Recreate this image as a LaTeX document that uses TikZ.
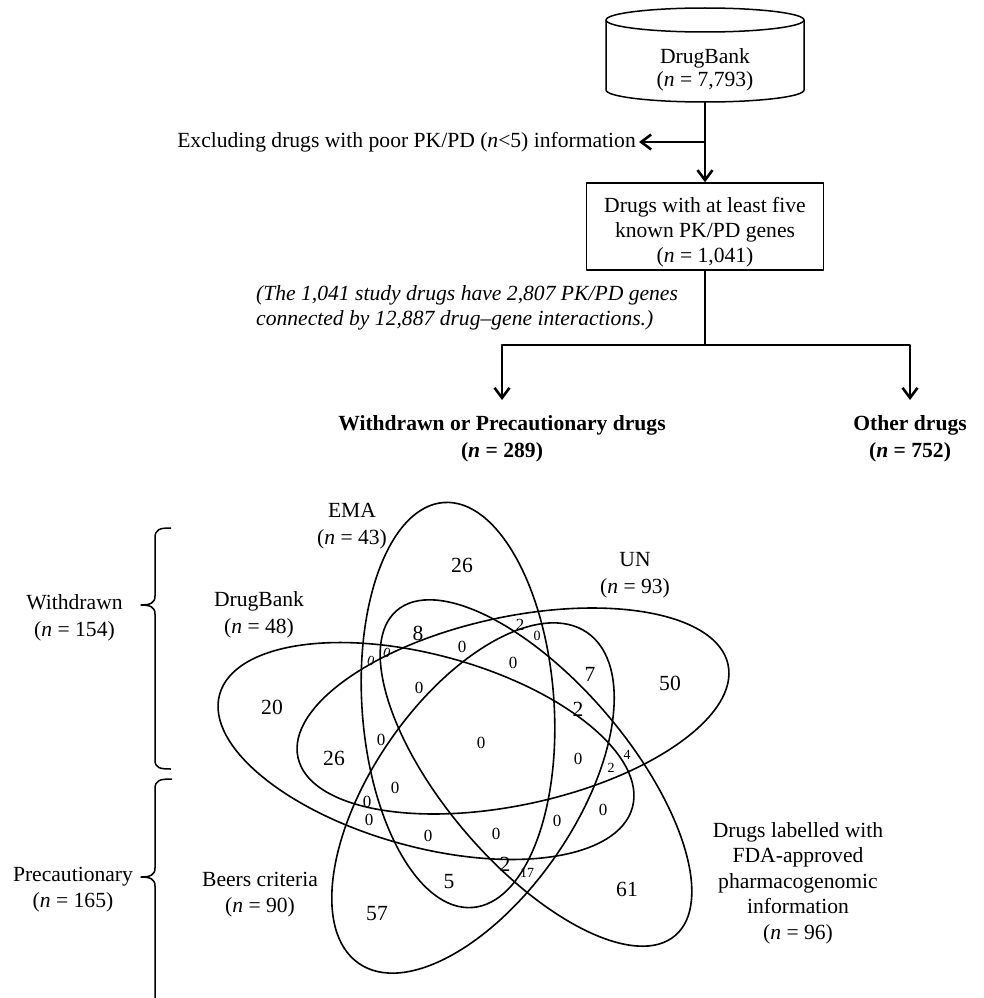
\documentclass[tikz,border=0pt]{standalone}
\usepackage{fontspec}
\setmainfont{Liberation Serif}
\usetikzlibrary{arrows.meta}
\begin{document}
\begin{tikzpicture}[x=1pt,y=-1pt,line join=round,
  ln/.style={line width=1.5pt},
  vn/.style={line width=1.6pt},
  arr/.style={line width=1.5pt,-{Straight Barb[length=10pt,width=15pt,line width=2.6pt]}},
  txt/.style={font=\fontsize{21.6}{26.5}\selectfont, inner sep=0pt, align=center},
  nL/.style={font=\fontsize{21.6}{24}\selectfont, inner sep=0pt},
  nM/.style={font=\fontsize{17}{20}\selectfont, inner sep=0pt},
  nS/.style={font=\fontsize{14}{16}\selectfont, inner sep=0pt}]
\path[use as bounding box, fill=white] (0,0) rectangle (983,998);

% ---------- flowchart ----------
\draw[ln] (606,20) -- (606,90) arc[start angle=180,end angle=360,x radius=99pt,y radius=12pt] -- (804,20);
\draw[ln] (705,20) ellipse [x radius=99pt, y radius=12pt];
\node[txt, font=\fontsize{21.6}{23}\selectfont] (db) at (705,70) {DrugBank\\(\textit{n} = 7,793)};
\coordinate (dbbot) at (705,102);

\node[txt, draw, line width=1.5pt, minimum width=237pt, minimum height=87pt, font=\fontsize{21.6}{25}\selectfont] (study) at (705,226.5)
  {\rule{0pt}{26pt}Drugs with at least five\\known PK/PD genes\\(\textit{n} = 1,041)};

\node[txt, anchor=east, inner xsep=3pt] (excl) at (639,142) {Excluding drugs with poor PK/PD (\textit{n}<5) information};
\draw[arr] (dbbot) -- (study.north);
\draw[arr] (dbbot |- excl.east) -- (excl.east);

\node[txt, align=left, anchor=north west, font=\fontsize{21.6}{25}\selectfont\itshape] (note) at (256,285)
  {(The 1,041 study drugs have 2,807 PK/PD genes\\connected by 12,887 drug–gene interactions.)};

\node[txt, anchor=north, font=\fontsize{21.6}{27}\selectfont\bfseries] (wd) at (502,415) {Withdrawn or Precautionary drugs\\(\textit{n} = 289)};
\node[txt, anchor=north, font=\fontsize{21.6}{27}\selectfont\bfseries] (od) at (910,415) {Other drugs\\(\textit{n} = 752)};
\coordinate (split) at (705,345);
\draw[ln] (study.south) -- (split);
\draw[arr] (split) -| ([yshift=15pt]wd.north);
\draw[arr] (split) -| ([yshift=15pt]od.north);

% ---------- braces ----------
\draw[ln] (171,528) .. controls (160,528) and (155,529) .. (155,538) -- (155,596)
  .. controls (155,603) and (150,605) .. (141,605) .. controls (150,605) and (155,607) .. (155,614)
  -- (155,760) .. controls (155,768) and (160,769) .. (171,769);
\draw[ln] (172,779) .. controls (160,779) and (155,780) .. (155,789) -- (155,868)
  .. controls (155,875) and (150,877) .. (141,877) .. controls (150,877) and (155,879) .. (155,886)
  -- (155,1010);
\node[txt] (wlab) at (74.5,618) {Withdrawn\\(\textit{n} = 154)};
\node[txt] (plab) at (73,889.5) {Precautionary\\(\textit{n} = 165)};

% ---------- Venn ellipses ----------
\draw[vn, rotate around={4:(458,705)}] (458,705) ellipse [x radius=96pt, y radius=203pt];     % EMA
\draw[vn, rotate around={-15.3:(426,751)}] (426,751) ellipse [x radius=214pt, y radius=96pt]; % DrugBank
\draw[vn, rotate around={12.2:(513,711)}] (513,711) ellipse [x radius=220pt, y radius=94pt];  % UN
\draw[vn, rotate around={-49.4:(536,773)}] (536,773) ellipse [x radius=214pt, y radius=92pt]; % FDA
\draw[vn, rotate around={55.4:(473,798)}] (473,798) ellipse [x radius=201pt, y radius=101pt]; % Beers

% ---------- set labels ----------
\node[txt] (ema) at (352,526) {EMA\\(\textit{n} = 43)};
\node[txt] (un) at (635,575) {UN\\(\textit{n} = 93)};
\node[txt] (dbk) at (259,615) {DrugBank\\(\textit{n} = 48)};
\node[txt] (beers) at (260,894.5) {Beers criteria\\(\textit{n} = 90)};
\node[txt, font=\fontsize{21.6}{25.5}\selectfont] (fda) at (798,883) {Drugs labelled with\\FDA-approved\\pharmacogenomic\\information\\(\textit{n} = 96)};

% ---------- region counts ----------
\foreach \px/\py/\t [count=\i] in {462/565/26, 272/707/20, 334/758/26, 418/633/8, 590/674/7,
  670/683/50, 449/882/5, 377/914/57, 627/889/61, 578/709/2, 505/864/2}
  \node[nL] (L\i) at (\px,\py) {\t};
\foreach \px/\py/\t [count=\i] in {462/647/0, 513/663/0, 419/688/0, 381/740/0, 481/743/0,
  578/759/0, 395/788/0, 428/836/0, 496/834/0, 557/821/0, 603/810/0, 367/802/0, 369/820/0, 520/625/2}
  \node[nM] (M\i) at (\px,\py) {\t};
\foreach \px/\py/\t/\r [count=\i] in {371/661/0/-15, 387/653/0/-15, 537/636/0/0, 611/768/2/0, 627/755/4/0, 527/873/17/0}
  \node[nS, rotate=\r] (S\i) at (\px,\py) {\t};
\end{tikzpicture}
\end{document}
